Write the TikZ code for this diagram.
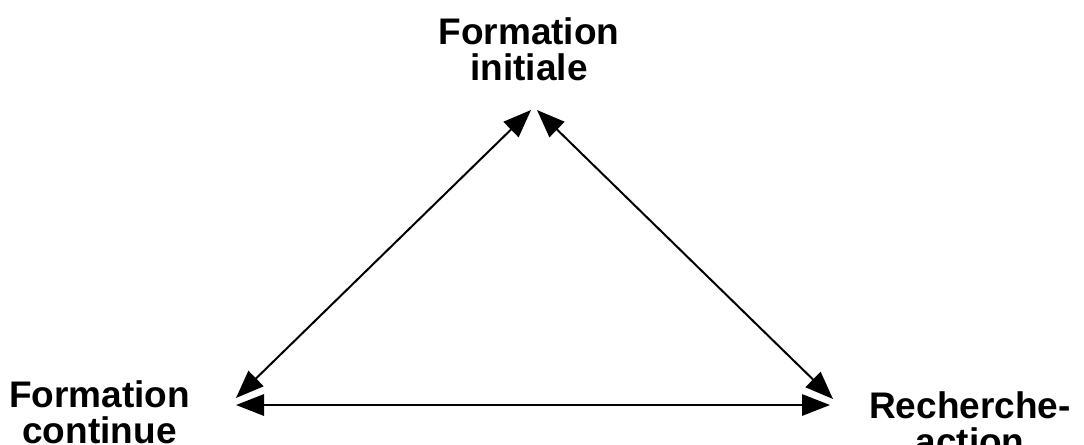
\documentclass[tikz,border=0pt]{standalone}
\usepackage{fontspec}
\setmainfont{Liberation Sans}
\usetikzlibrary{arrows.meta}

\begin{document}
\begin{tikzpicture}[x=0.75pt,y=-0.75pt,
  lbl/.style={font=\bfseries\fontsize{27.75}{27.5}\selectfont,align=center,inner sep=0pt,anchor=north},
  link/.style={{Triangle[length=21pt,width=16pt]}-{Triangle[length=21pt,width=16pt]},line width=1.5pt}]
\useasboundingbox (0,0) rectangle (1084,444);
\node[lbl] (fi) at (529,17) {Formation\\initiale};
\node[lbl] (fc) at (99.5,380) {Formation\\continue};
\node[lbl] (ra) at (970,391) {Recherche-\\action};
\coordinate (fiL) at (531,110);
\coordinate (fiR) at (537,110);
\coordinate (fcT) at (236,398);
\coordinate (fcB) at (236,405);
\coordinate (raT) at (833,399);
\coordinate (raB) at (830,405);
\draw[link] (fcT)--(fiL);
\draw[link] (fiR)--(raT);
\draw[link] (fcB)--(raB);
\end{tikzpicture}
\end{document}
